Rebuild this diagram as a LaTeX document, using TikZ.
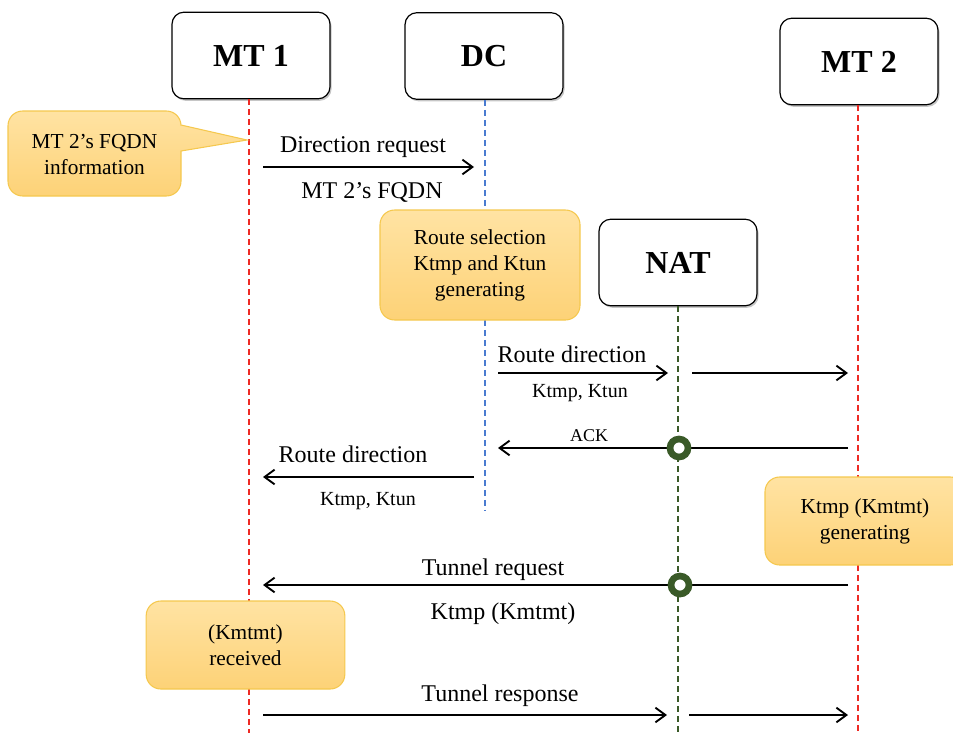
\documentclass[tikz,border=0pt]{standalone}
\usepackage{fontspec}
\setmainfont{Liberation Serif}
\usetikzlibrary{arrows.meta,shadows}
\definecolor{lred}{HTML}{EE2A24}
\definecolor{lblue}{HTML}{4A7BD0}
\definecolor{lgreen}{HTML}{3A5A28}
\definecolor{otop}{HTML}{FFE3A3}
\definecolor{obot}{HTML}{FDD277}
\definecolor{oline}{HTML}{F5C84E}
\tikzset{
  actor/.style={draw=black, rounded corners=9pt, minimum width=118.5pt, minimum height=65pt,
    fill=white, line width=0.9pt, font=\fontsize{24}{28}\selectfont\bfseries,
    drop shadow={shadow xshift=1.2pt, shadow yshift=-1.5pt, opacity=0.45}},
  note/.style={draw=oline, rounded corners=11pt, top color=otop, bottom color=obot,
    line width=0.8pt, align=center, font=\fontsize{16}{19.5}\selectfont},
  notepath/.style={draw=oline, top color=otop, bottom color=obot, line width=0.8pt},
  notetext/.style={align=center, font=\fontsize{16}{19.5}\selectfont},
  life/.style={line width=1.9pt, dash pattern=on 4.5pt off 3pt},
  msg/.style={line width=1.4pt, -{Straight Barb[length=7.5pt, width=11pt, line width=1.4pt]}},
  lbl/.style={font=\fontsize{18}{21}\selectfont, inner sep=1pt},
  slbl/.style={font=\fontsize{15}{18}\selectfont, inner sep=1pt},
  tlbl/.style={font=\fontsize{13.5}{16}\selectfont, inner sep=1pt},
  ring/.style={circle, draw=lgreen, line width=5pt, fill=white, inner sep=0pt, minimum size=13.5pt}
}
\begin{document}
\begin{tikzpicture}[x=0.75pt, y=-0.75pt]
\useasboundingbox (0,0) rectangle (953,732);

% actors
\node[actor] (mt1) at (251,55.5) {MT 1};
\node[actor] (dc) at (484,56) {DC};
\node[actor] (mt2) at (859,61.5) {MT 2};
\node[actor] (nat) at (678,262.5) {NAT};

% lifelines
\coordinate (bottom) at (0,735);
\coordinate (dcend) at (485,510);
\draw[life, lred] ([xshift=-1.5pt]mt1.south) -- ([xshift=-1.5pt]mt1.south |- bottom);
\draw[life, lblue] ([xshift=0.75pt]dc.south) -- ([xshift=0.75pt]dc.south |- dcend);
\draw[life, lred] ([xshift=-0.75pt]mt2.south) -- ([xshift=-0.75pt]mt2.south |- bottom);
\draw[life, lgreen] (nat.south) -- (nat.south |- bottom);

% callout note
\coordinate (tip) at (247,140);
\path[notepath] (8,153) [rounded corners=11pt] -- (8,111) -- (181,111) [sharp corners] -- (181,125)
  -- (tip) -- (181,151) [rounded corners=11pt] -- (181,196) -- (8,196) [sharp corners] -- cycle;
\node[notetext] (fq) at (94.5,155) {MT 2’s FQDN\\information};

% notes
\node[note, minimum width=150pt, minimum height=82.5pt] (rs) at (480,265) {Route selection\\Ktmp and Ktun\\generating};
\node[note, minimum width=150pt, minimum height=66pt] (gen) at (865,521) {Ktmp (Kmtmt)\\generating};
\node[note, minimum width=149pt, minimum height=66pt] (rcv) at (245.5,645) {(Kmtmt)\\received};

% message 1: Direction request
\coordinate (m1s) at (263,167);
\coordinate (m1e) at (474,167);
\draw[msg] (m1s) -- (m1e);
\node[lbl] (l1a) at (363,147) {Direction request};
\node[lbl] (l1b) at (372,192) {MT 2’s FQDN};

% message 2: Route direction DC -> NAT -> MT2
\coordinate (m2s) at (498,373);
\coordinate (m2e) at (668,373);
\coordinate (m2t) at (692,373);
\coordinate (m2u) at (848,373);
\draw[msg] (m2s) -- (m2e);
\draw[msg] (m2t) -- (m2u);
\node[lbl] (l2a) at (572,354) {Route direction};
\node[slbl] (l2b) at (580,393) {Ktmp, Ktun};

% message 3: ACK
\coordinate (m3s) at (848,448);
\coordinate (m3e) at (498,448);
\draw[msg] (m3s) -- (m3e);
\node[ring] (r1) at (679,448) {};
\node[tlbl] (l3) at (589,436) {ACK};

% message 4: Route direction DC -> MT1
\coordinate (m4s) at (474,477);
\coordinate (m4e) at (263,477);
\draw[msg] (m4s) -- (m4e);
\node[lbl] (l4a) at (353,454) {Route direction};
\node[slbl] (l4b) at (368,501) {Ktmp, Ktun};

% message 5: Tunnel request
\coordinate (m5s) at (848,585);
\coordinate (m5e) at (263,585);
\draw[msg] (m5s) -- (m5e);
\node[ring] (r2) at (680,585) {};
\node[lbl] (l5a) at (493,570) {Tunnel request};
\node[lbl] (l5b) at (503,614) {Ktmp (Kmtmt)};

% message 6: Tunnel response
\coordinate (m6s) at (263,715);
\coordinate (m6e) at (667,715);
\coordinate (m6t) at (689,715);
\coordinate (m6u) at (848,715);
\draw[msg] (m6s) -- (m6e);
\draw[msg] (m6t) -- (m6u);
\node[lbl] (l6) at (500,696) {Tunnel response};
\end{tikzpicture}
\end{document}
